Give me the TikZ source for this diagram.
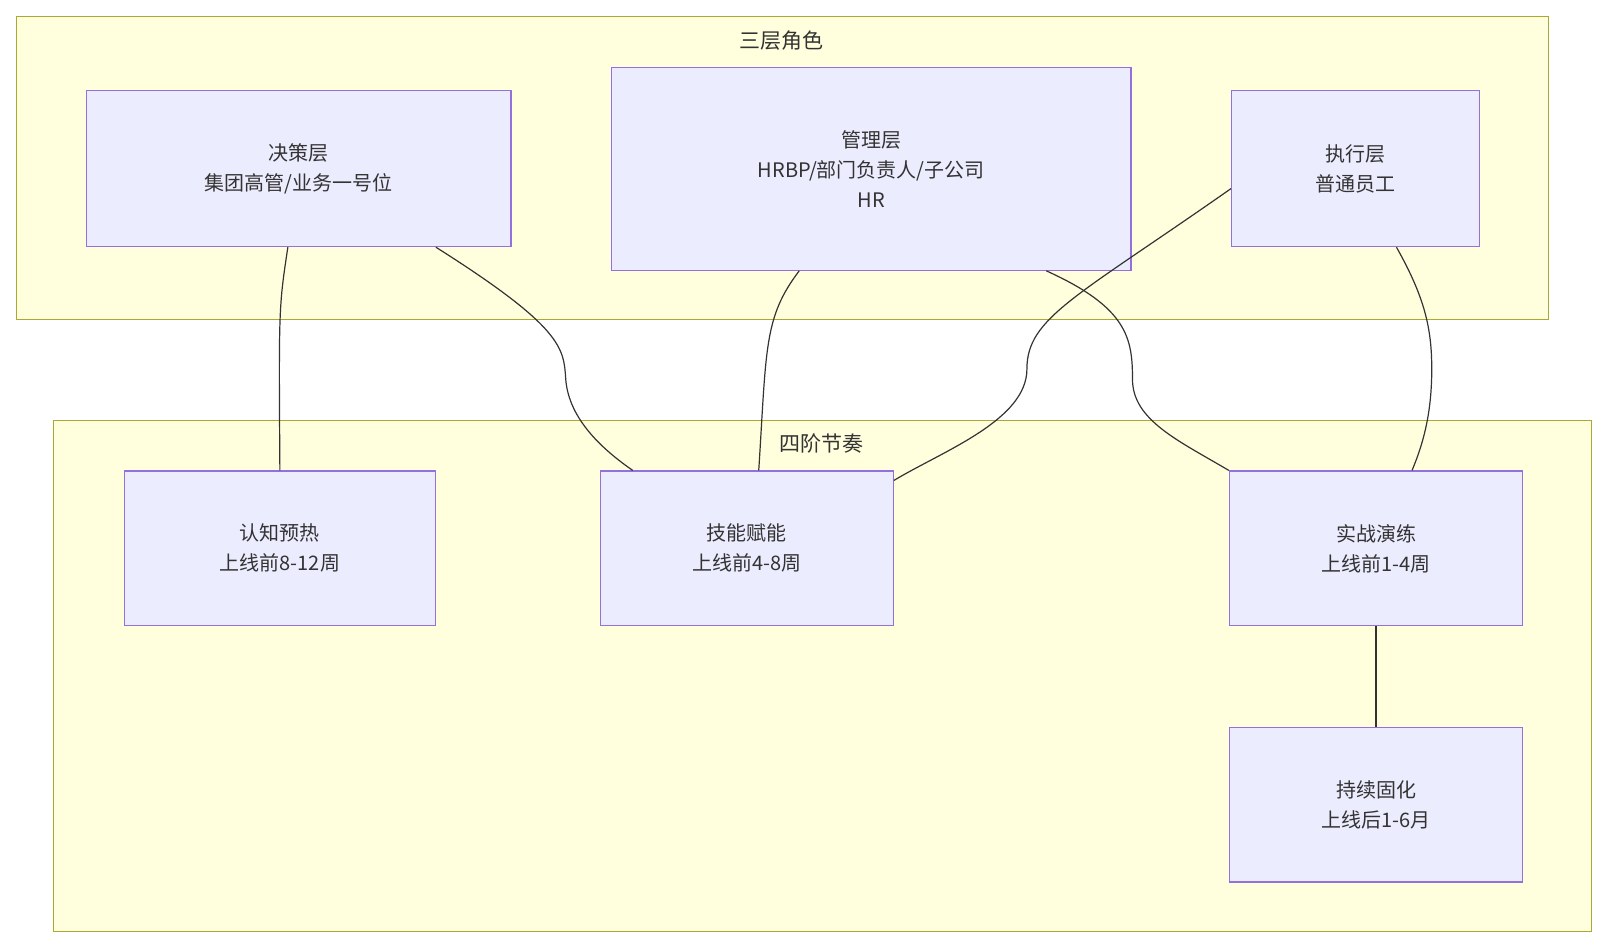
\documentclass[tikz,border=0pt]{standalone}
\usepackage{fontspec}
\setmainfont{Noto Sans CJK SC}
\usetikzlibrary{positioning}
\definecolor{clusterfill}{HTML}{FFFFDE}
\definecolor{clusterline}{HTML}{AAAA33}
\definecolor{nodefill}{HTML}{ECECFF}
\definecolor{nodeline}{HTML}{9370DB}
\definecolor{edgegray}{HTML}{333333}

\begin{document}
\begin{tikzpicture}[
    x=1.025pt, y=-1.025pt,
    cluster/.style={draw=clusterline, fill=clusterfill, line width=1.2pt},
    clabel/.style={font=\fontsize{21}{24}\selectfont, text=edgegray},
    box/.style={draw=nodeline, fill=nodefill, line width=1.2pt, align=center, font=\fontsize{20}{30}\selectfont, text=edgegray},
    link/.style={draw=edgegray, line width=1.2pt}
]
    \useasboundingbox (0,0) rectangle (1568,925);
    % Clusters
    \draw[cluster] (16,16) rectangle (1511,312);
    \node[clabel] (roles) at (763,40) {三层角色};
    \draw[cluster] (52,410) rectangle (1553,909);
    \node[clabel] (phases) at (802,433) {四阶节奏};

    % Roles
    \node[box, anchor=north west, minimum width=424.4pt, minimum height=155.8pt] (decide) at (84,88) {决策层\\集团高管/业务一号位};
    \node[box, anchor=north west, minimum width=519.7pt, minimum height=203pt] (manage) at (596,65) {管理层\\HRBP/部门负责人/子公司\\HR};
    \node[box, anchor=north west, minimum width=248pt, minimum height=155.8pt] (exec) at (1201,88) {执行层\\普通员工};

    % Phases
    \node[box, anchor=north west, minimum width=310.6pt, minimum height=154.8pt] (warm) at (121,459) {认知预热\\上线前8-12周};
    \node[box, anchor=north west, minimum width=293.2pt, minimum height=154.8pt] (skill) at (585,459) {技能赋能\\上线前4-8周};
    \node[box, anchor=north west, minimum width=293.2pt, minimum height=154.8pt] (drill) at (1199,459) {实战演练\\上线前1-4周};
    \node[box, anchor=north west, minimum width=293.2pt, minimum height=154.8pt] (keep) at (1199,709) {持续固化\\上线后1-6月};

    % Links
    \draw[link] ([xshift=-11pt]decide.south) .. controls (272,300) .. (warm.north);
    \draw[link] ([xshift=137pt]decide.south) .. controls (550,320) and (550,340) .. (552,370) .. controls (555,410) and (590,440) .. ([xshift=-114pt]skill.north);
    \draw[link] ([xshift=-72pt]manage.south) .. controls (745,310) and (748,340) .. ([xshift=12pt]skill.north);
    \draw[link] ([xshift=175pt]manage.south) .. controls (1100,300) and (1105,330) .. (1105,370) .. controls (1105,410) and (1150,430) .. (drill.north west);
    \draw[link] ([yshift=-20pt]exec.west) .. controls (1050,290) and (1002,310) .. (1002,360) .. controls (1002,410) and (920,440) .. ([yshift=-10pt]skill.north east);
    \draw[link] ([xshift=41pt]exec.south) .. controls (1390,290) and (1397,320) .. (1397,360) .. controls (1397,400) and (1390,430) .. ([xshift=36pt]drill.north);
    \draw[link] (drill) -- (keep);
\end{tikzpicture}
\end{document}
